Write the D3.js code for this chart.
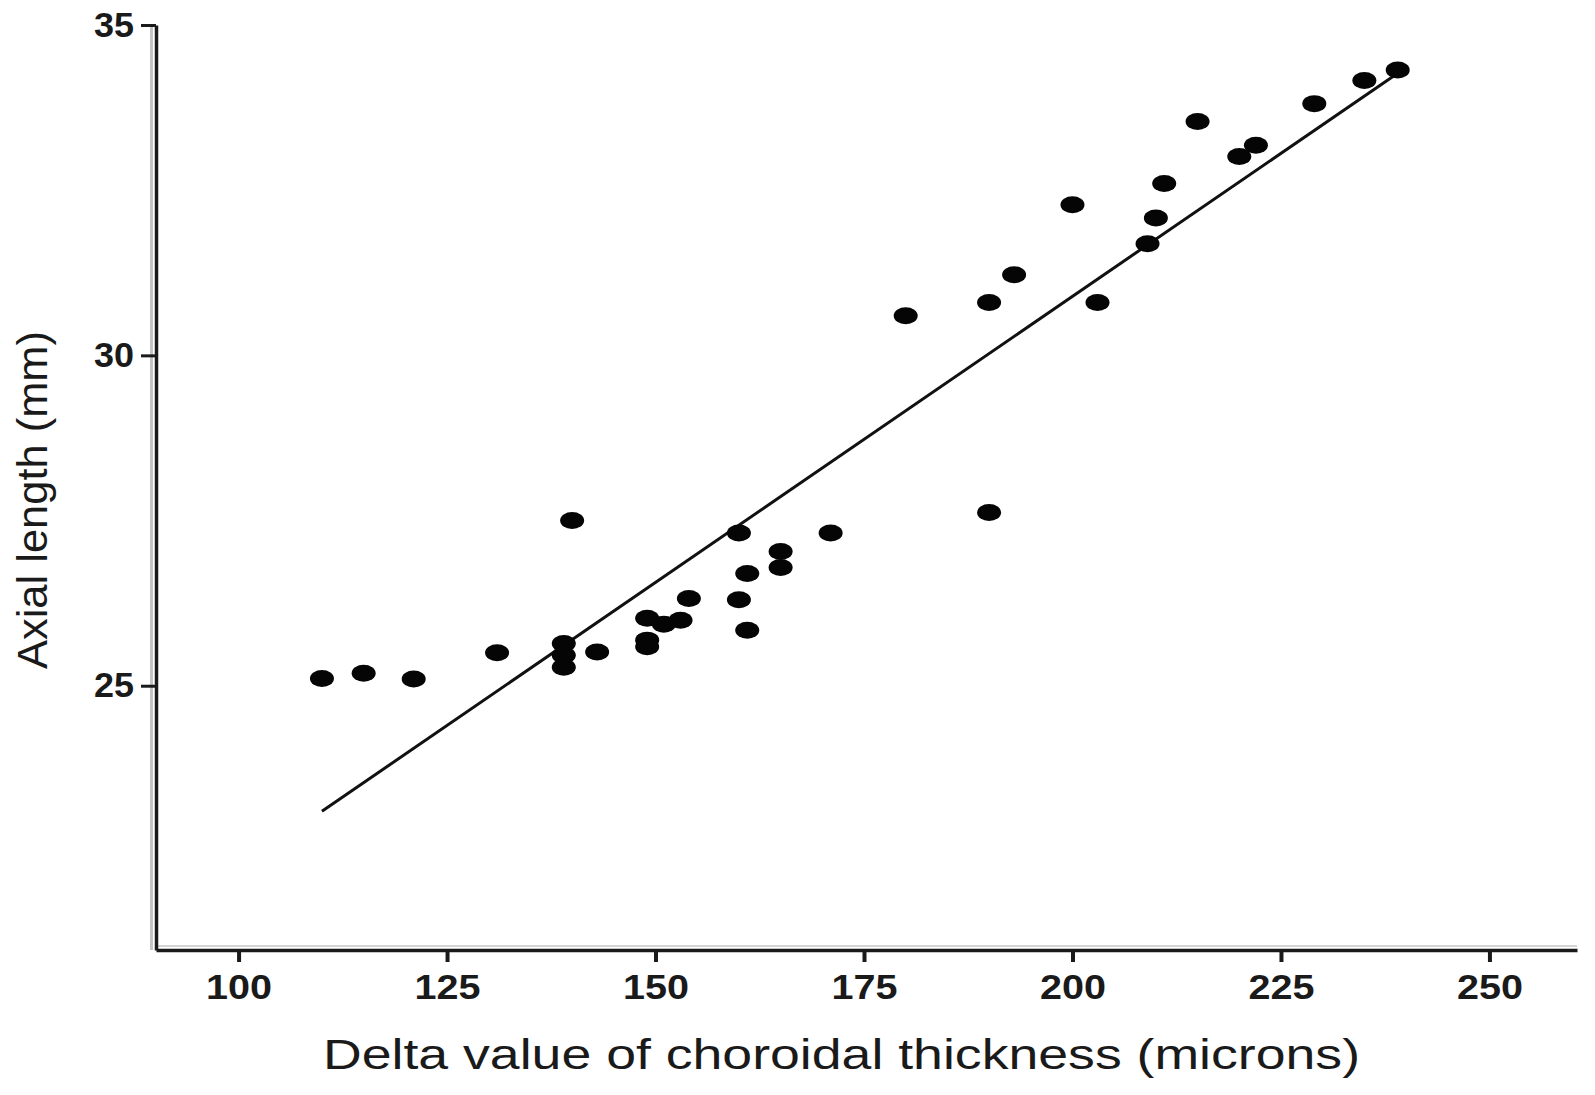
<!DOCTYPE html>
<html>
<head>
<meta charset="utf-8">
<script src="https://cdn.jsdelivr.net/npm/d3@7"></script>
<style>
  html, body { margin: 0; padding: 0; background: #fff; }
  svg { display: block; }
</style>
</head>
<body>
<svg id="chart" width="1595" height="1095"></svg>
<script>
// Data
const choroidalDelta = [110, 115, 121, 131, 139, 139, 139, 143, 140, 149, 149, 149, 151, 153, 154, 160, 160, 161, 161, 165, 165, 171, 180, 190, 190, 193, 200, 203, 209, 210, 211, 215, 220, 222, 229, 235, 239];
const axialLength   = [25.11, 25.19, 25.10, 25.50, 25.64, 25.46, 25.28, 25.51, 27.50, 26.02, 25.69, 25.59, 25.93, 25.99, 26.32, 26.30, 27.31, 26.70, 25.84, 27.03, 26.79, 27.31, 30.60, 27.62, 30.80, 31.22, 32.28, 30.80, 31.69, 32.08, 32.60, 33.54, 33.01, 33.18, 33.81, 34.16, 34.32];
const fitLineX = [110, 239];
const fitLineY = [23.10, 34.27];
const xTicks = [100, 125, 150, 175, 200, 225, 250];
const yTicks = [25, 30, 35];
const xTitle = "Delta value of choroidal thickness (microns)";
const yTitle = "Axial length (mm)";

const svg = d3.select("#chart");
const x = d3.scaleLinear().domain([90.1, 260.5]).range([156, 1577]);
const y = d3.scaleLinear().domain([21, 35]).range([950, 25]);

const ink = "#1a1a1a";

// soft shadow of axes (scan artefact look)
svg.append("line").attr("x1", 151.5).attr("x2", 151.5).attr("y1", y(35)).attr("y2", y(21))
  .attr("stroke", "#c4c4c4").attr("stroke-width", 3);
svg.append("line").attr("x1", x.range()[0]).attr("x2", x.range()[1]).attr("y1", 946).attr("y2", 946)
  .attr("stroke", "#d4d4d4").attr("stroke-width", 2);

// X axis
const gx = svg.append("g").attr("transform", `translate(0,${y(21)})`)
  .call(d3.axisBottom(x).tickValues(xTicks).tickSize(12).tickSizeOuter(0).tickPadding(12).tickFormat(d3.format("d")));
gx.select(".domain").attr("stroke", ink).attr("stroke-width", 3.5);
gx.selectAll(".tick line").attr("stroke", ink).attr("stroke-width", 4);
gx.selectAll(".tick text")
  .attr("fill", ink)
  .style("font-family", "'Liberation Sans', Arial, sans-serif")
  .style("font-weight", "bold")
  .style("font-size", "35px")
  .attr("textLength", d => String(d).length * 22)
  .attr("lengthAdjust", "spacingAndGlyphs");

// Y axis
const gy = svg.append("g").attr("transform", `translate(${x(90.1)},0)`)
  .call(d3.axisLeft(y).tickValues(yTicks).tickSize(15).tickSizeOuter(0).tickPadding(7).tickFormat(d3.format("d")));
gy.select(".domain").attr("stroke", ink).attr("stroke-width", 3.5);
gy.selectAll(".tick line").attr("stroke", ink).attr("stroke-width", 3);
gy.selectAll(".tick text")
  .attr("fill", ink)
  .style("font-family", "'Liberation Sans', Arial, sans-serif")
  .style("font-weight", "bold")
  .style("font-size", "35px")
  .attr("textLength", d => String(d).length * 20)
  .attr("lengthAdjust", "spacingAndGlyphs");

// Regression line
svg.append("path")
  .datum(fitLineX.map((v, i) => [v, fitLineY[i]]))
  .attr("d", d3.line().x(d => x(d[0])).y(d => y(d[1])))
  .attr("fill", "none").attr("stroke", "#111").attr("stroke-width", 3);

// Points
svg.append("g").selectAll("ellipse")
  .data(choroidalDelta.map((v, i) => [v, axialLength[i]]))
  .join("ellipse")
  .attr("cx", d => x(d[0])).attr("cy", d => y(d[1]))
  .attr("rx", 12).attr("ry", 8.5)
  .attr("fill", "#050505");

// Axis titles
svg.append("text")
  .attr("x", 323).attr("y", 1069)
  .attr("textLength", 1037).attr("lengthAdjust", "spacingAndGlyphs")
  .style("font-family", "'Liberation Sans', Arial, sans-serif")
  .style("font-size", "42px")
  .attr("fill", ink)
  .text(xTitle);

svg.append("text")
  .attr("transform", "translate(47,669) rotate(-90)")
  .attr("x", 0).attr("y", 0)
  .attr("textLength", 338).attr("lengthAdjust", "spacingAndGlyphs")
  .style("font-family", "'Liberation Sans', Arial, sans-serif")
  .style("font-size", "43px")
  .attr("fill", ink)
  .text(yTitle);
</script>
</body>
</html>
